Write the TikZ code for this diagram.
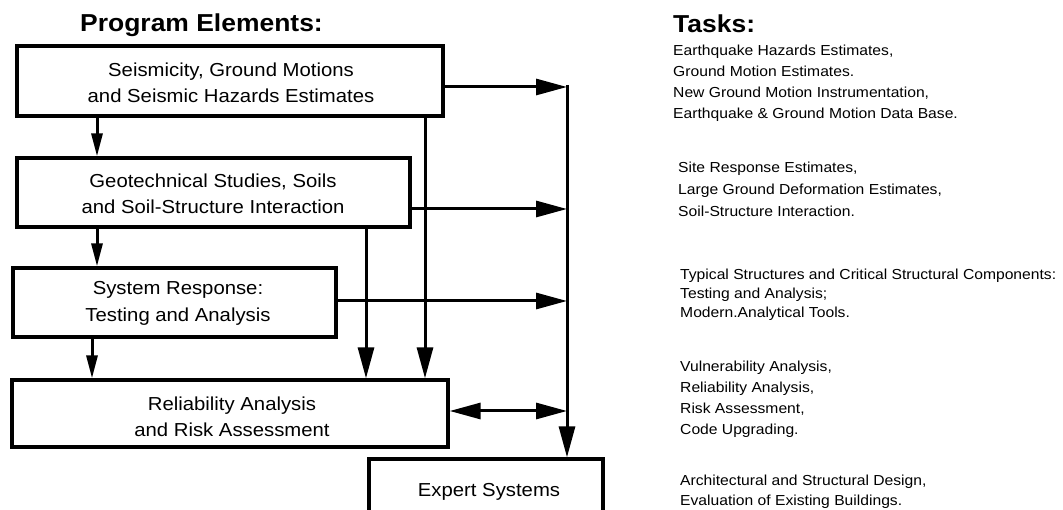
\documentclass[tikz,border=0pt]{standalone}
\usepackage{fontspec}
\setmainfont{Liberation Sans}[FakeStretch=1.08]
\usetikzlibrary{arrows.meta}
\begin{document}
\begin{tikzpicture}[x=1pt,y=-1pt,
  box/.style={draw=black, line width=3.3pt, rectangle, inner sep=0pt},
  conn/.style={line width=3pt, line cap=butt},
  bigtip/.style={-{Triangle[length=31pt,width=16pt]}},
  bigboth/.style={{Triangle[length=31pt,width=16pt]}-{Triangle[length=31pt,width=16pt]}},
  smalltip/.style={-{Triangle[length=23pt,width=11pt]}},
  btext/.style={font=\fontsize{18.8}{26}\selectfont, anchor=base, inner sep=0pt},
  ttitle/.style={font=\fontsize{24.5}{28}\selectfont\bfseries, anchor=base west, inner sep=0pt},
  ttext/.style={anchor=base west, inner sep=0pt, align=left}
]
\useasboundingbox (0,0) rectangle (1063,510);
\fill[white] (0,0) rectangle (1063,510);
\clip (0,0) rectangle (1063,510);

% titles
\node[ttitle] (pe) at (80,32) {Program Elements:};
\node[ttitle] (tk) at (673,33) {Tasks:};

% boxes
\node[box, minimum width=426pt, minimum height=70pt] (b1) at (230,81) {};
\node[box, minimum width=393pt, minimum height=69pt] (b2) at (213.5,192.5) {};
\node[box, minimum width=323pt, minimum height=69pt] (b3) at (174.5,302.5) {};
\node[box, minimum width=436pt, minimum height=67pt] (b4) at (230,413.5) {};
\node[box, minimum width=234pt, minimum height=100pt] (b5) at (486,509) {};

% box texts
\node[btext] (t1a) at (231,77) {Seismicity, Ground Motions};
\node[btext] (t1b) at (231,103) {and Seismic Hazards Estimates};
\node[btext] (t2a) at (213,188) {Geotechnical Studies, Soils};
\node[btext] (t2b) at (213,214) {and Soil-Structure Interaction};
\node[btext] (t3a) at (178,295) {System Response:};
\node[btext] (t3b) at (178,322) {Testing and Analysis};
\node[btext] (t4a) at (232,410) {Reliability Analysis};
\node[btext] (t4b) at (232,436) {and Risk Assessment};
\node[btext] (t5) at (489,496) {Expert Systems};

% right hand task lists (base anchor = baseline of last line)
\node[ttext, font=\fontsize{14.5}{21.3}\selectfont] (g1) at (673,119) {Earthquake Hazards Estimates,\\Ground Motion Estimates.\\New Ground Motion Instrumentation,\\Earthquake \& Ground Motion Data Base.};
\node[ttext, font=\fontsize{14.5}{22}\selectfont] (g2) at (678,217) {Site Response Estimates,\\Large Ground Deformation Estimates,\\Soil-Structure Interaction.};
\node[ttext, font=\fontsize{14.5}{19}\selectfont] (g3) at (680,318) {Typical Structures and Critical Structural Components:\\Testing and Analysis;\\Modern.Analytical Tools.};
\node[ttext, font=\fontsize{14.5}{21}\selectfont] (g4) at (680,435) {Vulnerability Analysis,\\Reliability Analysis,\\Risk Assessment,\\Code Upgrading.};
\node[ttext, font=\fontsize{14.5}{20}\selectfont] (g5) at (680,505) {Architectural and Structural Design,\\Evaluation of Existing Buildings.};

% collector line coordinates
\coordinate (vtop) at (567,85);
\coordinate (v1) at (567,87);
\coordinate (v2) at (567,209);
\coordinate (v3) at (567,301);
\coordinate (v4) at (567,411);
\coordinate (d1) at (425,100);
\coordinate (d2) at (366,200);
\coordinate (s1) at (97,100);
\coordinate (s3) at (92,320);

% collector
\draw[conn, bigtip] (vtop) -- (vtop |- b5.north);
\draw[conn, bigtip] (b1.east |- v1) -- (v1);
\draw[conn, bigtip] (b2.east |- v2) -- (v2);
\draw[conn, bigtip] (b3.east |- v3) -- (v3);
\draw[conn, bigboth] (b4.east |- v4) -- (v4);

% long down lines to box 4
\draw[conn, bigtip] (d1 |- b1.south) -- (d1 |- b4.north);
\draw[conn, bigtip] (d2 |- b2.south) -- (d2 |- b4.north);

% short down arrows
\draw[conn, smalltip] (s1 |- b1.south) -- (s1 |- b2.north);
\draw[conn, smalltip] (s1 |- b2.south) -- (s1 |- b3.north);
\draw[conn, smalltip] (s3 |- b3.south) -- (s3 |- b4.north);
\end{tikzpicture}
\end{document}
